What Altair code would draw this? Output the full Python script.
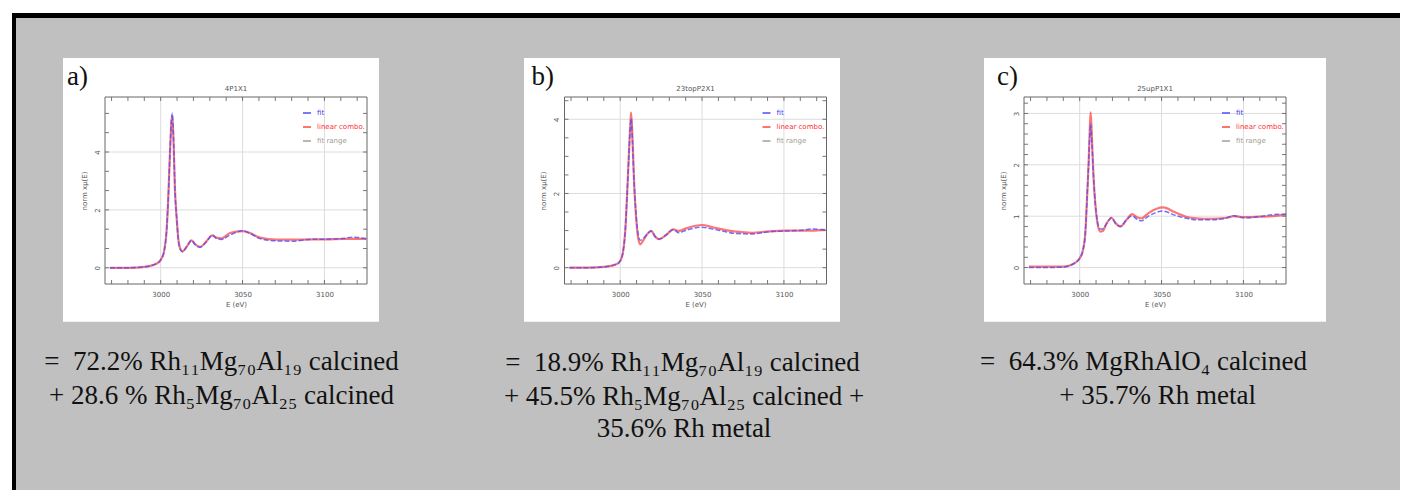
import altair as alt
import pandas as pd

# ---------------- data ----------------
series_names = ["fit", "linear combo.", "fit range"]
panel_letters = ["a)", "b)", "c)"]
panel_titles = ["4P1X1", "23topP2X1", "25upP1X1"]

E_a = [2969, 2980, 2990, 2997.6, 3000, 3002, 3003.7, 3004.7, 3005.7, 3006.7, 3007.1, 3007.9,
       3008.7, 3009.8, 3010.8, 3012.2, 3013.4, 3015.9, 3018.9, 3020.9, 3024, 3028, 3031.5,
       3034.1, 3037.2, 3042.3, 3050, 3054.5, 3060.6, 3070.7, 3080.9, 3091, 3101.2, 3111.4,
       3117.5, 3125.6]
fit_a = [0.0, 0.0, 0.03, 0.15, 0.27, 0.55, 1.36, 2.5, 4.0, 5.2, 5.34, 4.36, 2.74, 1.7, 0.96,
         0.61, 0.55, 0.73, 0.95, 0.81, 0.71, 0.9, 1.13, 1.01, 0.98, 1.13, 1.28, 1.19, 1.01,
         0.93, 0.92, 0.98, 0.99, 1.01, 1.06, 1.0]
lc_a = [0.0, 0.0, 0.03, 0.15, 0.27, 0.55, 1.36, 2.5, 4.0, 5.12, 5.25, 4.3, 2.74, 1.7, 0.98,
        0.63, 0.57, 0.73, 0.95, 0.82, 0.72, 0.92, 1.12, 1.04, 1.02, 1.2, 1.27, 1.2, 1.04,
        0.97, 0.97, 0.98, 0.98, 1.0, 1.0, 1.0]

E_b = [2969, 2980, 2990, 2997.6, 3000, 3001.6, 3003.2, 3004.3, 3005.3, 3006.3, 3006.7, 3007.5,
       3008.5, 3009.5, 3010.8, 3012.2, 3014.2, 3016.8, 3018.9, 3021.5, 3023.9, 3028, 3032.5,
       3035.7, 3040.2, 3050, 3056.4, 3064.5, 3070.6, 3080.7, 3090.9, 3101, 3111, 3117, 3125.4]
fit_b = [0.0, 0.0, 0.02, 0.09, 0.18, 0.39, 1.06, 2.04, 3.03, 3.85, 4.02, 3.4, 2.3, 1.55, 0.95,
         0.74, 0.79, 0.92, 0.99, 0.83, 0.77, 0.88, 1.03, 0.94, 1.01, 1.09, 1.04, 0.97, 0.92,
         0.91, 0.97, 0.99, 1.01, 1.04, 1.02]
lc_b = [0.0, 0.0, 0.02, 0.09, 0.18, 0.39, 1.06, 2.04, 3.03, 3.95, 4.18, 3.5, 2.31, 1.5, 0.85,
        0.63, 0.74, 0.92, 0.99, 0.83, 0.77, 0.88, 1.03, 0.99, 1.06, 1.15, 1.09, 1.01, 0.97,
        0.94, 0.98, 1.0, 1.0, 1.0, 1.02]

E_c = [2969, 2980, 2990, 2997.6, 3000, 3002, 3003.5, 3004.5, 3005.5, 3006.3, 3006.7, 3007.5,
       3008.5, 3009.6, 3010.8, 3012.5, 3014, 3016.5, 3019.4, 3022, 3024.9, 3028.6, 3032, 3035,
       3037.8, 3042, 3051, 3058, 3065, 3071, 3080, 3090, 3094, 3100, 3110, 3118, 3126]
fit_c = [0.0, 0.0, 0.01, 0.1, 0.18, 0.34, 0.7, 1.35, 2.06, 2.65, 2.8, 2.4, 1.74, 1.22, 0.9,
         0.75, 0.75, 0.86, 0.97, 0.86, 0.8, 0.93, 1.01, 0.94, 0.91, 1.0, 1.1, 1.02, 0.96, 0.93,
         0.93, 0.97, 1.01, 0.97, 0.99, 1.03, 1.04]
lc_c = [0.02, 0.02, 0.02, 0.1, 0.18, 0.34, 0.7, 1.35, 2.06, 2.8, 3.02, 2.5, 1.74, 1.22, 0.88,
        0.70, 0.71, 0.86, 0.97, 0.86, 0.8, 0.93, 1.04, 0.98, 0.96, 1.06, 1.17, 1.08, 0.99,
        0.96, 0.95, 0.97, 1.0, 0.98, 0.99, 1.0, 1.03]

x_domain = [2966, 3126]
x_major = [3000, 3050, 3100]
x_minor = [2970, 2980, 2990, 3000, 3010, 3020, 3030, 3040, 3050, 3060, 3070, 3080, 3090,
           3100, 3110, 3120]
y_domains = [[-0.56, 5.9], [-0.44, 4.6], [-0.32, 3.32]]
y_major = [[0, 2, 4], [0, 2, 4], [0, 1, 2, 3]]
y_minor = [[0, 0.667, 1.333, 2, 2.667, 3.333, 4, 4.667, 5.333],
           [0, 0.5, 1, 1.5, 2, 2.5, 3, 3.5, 4, 4.5],
           [0, 0.2, 0.4, 0.6, 0.8, 1, 1.2, 1.4, 1.6, 1.8, 2, 2.2, 2.4, 2.6, 2.8, 3, 3.2]]

captions = [
    ["=\u00a0 72.2% Rh\u2081\u2081Mg\u2087\u2080Al\u2081\u2089 calcined",
     "+ 28.6 % Rh\u2085Mg\u2087\u2080Al\u2082\u2085 calcined"],
    ["=\u00a0 18.9% Rh\u2081\u2081Mg\u2087\u2080Al\u2081\u2089 calcined",
     "+ 45.5% Rh\u2085Mg\u2087\u2080Al\u2082\u2085 calcined +",
     "35.6% Rh metal"],
    ["=\u00a0 64.3% MgRhAlO\u2084 calcined",
     "+ 35.7% Rh metal"],
]

# ---------------- layout / style ----------------
W, H = 262, 187
GRAY = "#c0c0c0"
AX = "#555555"
SANS = "DejaVu Sans"
SERIF = "Liberation Serif, Times New Roman, DejaVu Serif, serif"

caption_pos = [[(116.5, 272.5), (116.5, 307)],
               [(118, 274), (119.5, 307.5), (119.5, 340)],
               [(119.5, 273), (133.6, 307)]]
letter_x = [-38, -33, -27]
panel_box = [(-42, 274), (-40.5, 275.5), (-40, 302)]

one = alt.Data(values=[{"k": 1}])


def vrect(x, x2, y, y2, color):
    return alt.Chart(one).mark_rect(color=color, strokeWidth=0).encode(
        x=alt.value(x), x2=alt.value(x2), y=alt.value(y), y2=alt.value(y2))


def vtext(txt, x, y, **kw):
    return alt.Chart(one).mark_text(**kw).encode(
        x=alt.value(x), y=alt.value(y), text=alt.value(txt))


def panel(i, E, fit, lc):
    xs = alt.Scale(domain=x_domain, nice=False, zero=False)
    ys = alt.Scale(domain=y_domains[i], nice=False, zero=False)
    xaxis = alt.Axis(values=x_major, format="d", title="E (eV)", labelFontSize=7,
                     titleFontSize=7, labelColor=AX, titleColor=AX,
                     titleFontWeight="normal", labelFont=SANS, titleFont=SANS,
                     domain=False, ticks=False, grid=False, labelPadding=6,
                     titlePadding=3, zindex=1)
    yaxis = alt.Axis(values=y_major[i], format="d", title="norm x\u03bc(E)",
                     labelFontSize=7, titleFontSize=7, labelColor=AX, titleColor=AX,
                     titleFontWeight="normal", labelFont=SANS, titleFont=SANS,
                     domain=False, ticks=False, grid=False, labelAngle=270,
                     labelPadding=5, titlePadding=6, zindex=1)
    X = alt.X("E:Q", scale=xs, axis=xaxis)
    Y = alt.Y("v:Q", scale=ys, axis=yaxis)

    layers = []
    if i == 0:
        # page background: white margin, black border, gray field
        layers += [vrect(-97, 1295, -89, 393, "white"),
                   vrect(-93, 1295, -84, 393, "black"),
                   vrect(-89, 1295, -79, 393, GRAY)]
    bx0, bx1 = panel_box[i]
    layers.append(vrect(bx0, bx1, -39, 224.7, "white"))

    gx = pd.DataFrame({"E": x_major})
    gy = pd.DataFrame({"v": y_major[i]})
    mx = pd.DataFrame({"E": x_minor})
    my = pd.DataFrame({"v": y_minor[i]})
    layers.append(alt.Chart(gx).mark_rule(color="#dcdcdc", strokeWidth=1).encode(x=X))
    layers.append(alt.Chart(gy).mark_rule(color="#dcdcdc", strokeWidth=1).encode(y=Y))
    layers.append(alt.Chart(mx).mark_rule(color=AX, strokeWidth=0.8).encode(
        x=X, y=alt.value(0), y2=alt.value(4)))
    layers.append(alt.Chart(mx).mark_rule(color=AX, strokeWidth=0.8).encode(
        x=X, y=alt.value(H - 4), y2=alt.value(H)))
    layers.append(alt.Chart(my).mark_rule(color=AX, strokeWidth=0.8).encode(
        y=Y, x=alt.value(0), x2=alt.value(4)))
    layers.append(alt.Chart(my).mark_rule(color=AX, strokeWidth=0.8).encode(
        y=Y, x=alt.value(W - 4), x2=alt.value(W)))

    cscale = alt.Scale(domain=series_names, range=["#4d4dff", "#ff4545", "#a0a090"])
    label_fill = ("datum.label === 'fit' ? '#4040ff' : datum.label === 'linear combo.' ? "
                  "'#ff3030' : '#a0a090'")
    leg = alt.Legend(title=None, orient="none", legendX=197, legendY=11,
                     symbolType="stroke", symbolSize=64, symbolStrokeWidth=1.5,
                     symbolOpacity=1, labelFontSize=7, labelFont=SANS, rowPadding=6,
                     labelOffset=5, padding=0, zindex=1,
                     labelColor=alt.ExprRef(label_fill))
    col = alt.Color("s:N", scale=cscale, legend=leg)

    d_lc = pd.DataFrame({"E": E, "v": lc, "s": "linear combo."})
    d_fit = pd.DataFrame({"E": E, "v": fit, "s": "fit"})
    layers.append(alt.Chart(d_lc).mark_line(strokeWidth=2.2, opacity=0.75,
                                            interpolate="monotone").encode(x=X, y=Y, color=col))
    layers.append(alt.Chart(d_fit).mark_line(strokeWidth=1.5, opacity=0.8, strokeDash=[5, 2],
                                             interpolate="monotone").encode(x=X, y=Y, color=col))

    # frame
    layers.append(alt.Chart(one).mark_rect(fill="white", fillOpacity=0, stroke="#666",
                                           strokeWidth=1).encode(
        x=alt.value(0), x2=alt.value(W), y=alt.value(0), y2=alt.value(H)))

    # texts
    layers.append(vtext(panel_titles[i], W / 2, -8, fontSize=7, font=SANS, color=AX,
                        baseline="middle", align="center"))
    layers.append(vtext(panel_letters[i], letter_x[i], -12, fontSize=27, font=SERIF,
                        color="#111", align="left", baseline="alphabetic"))
    for txt, (cx, cy) in zip(captions[i], caption_pos[i]):
        layers.append(vtext(txt, cx, cy, fontSize=27, font=SERIF, color="#111",
                            align="center", baseline="alphabetic"))

    return alt.layer(*layers).properties(width=W, height=H)


pa = panel(0, E_a, fit_a, lc_a)
pb = panel(1, E_b, fit_b, lc_b)
pc = panel(2, E_c, fit_c, lc_c)

chart = alt.hconcat(pa, pb, pc, spacing=197.5, bounds="flush").resolve_scale(
    color="independent", x="independent", y="independent"
).properties(padding=0).configure_view(stroke=None)

chart.save("out.html", embed_options={"renderer": "svg", "actions": False})
